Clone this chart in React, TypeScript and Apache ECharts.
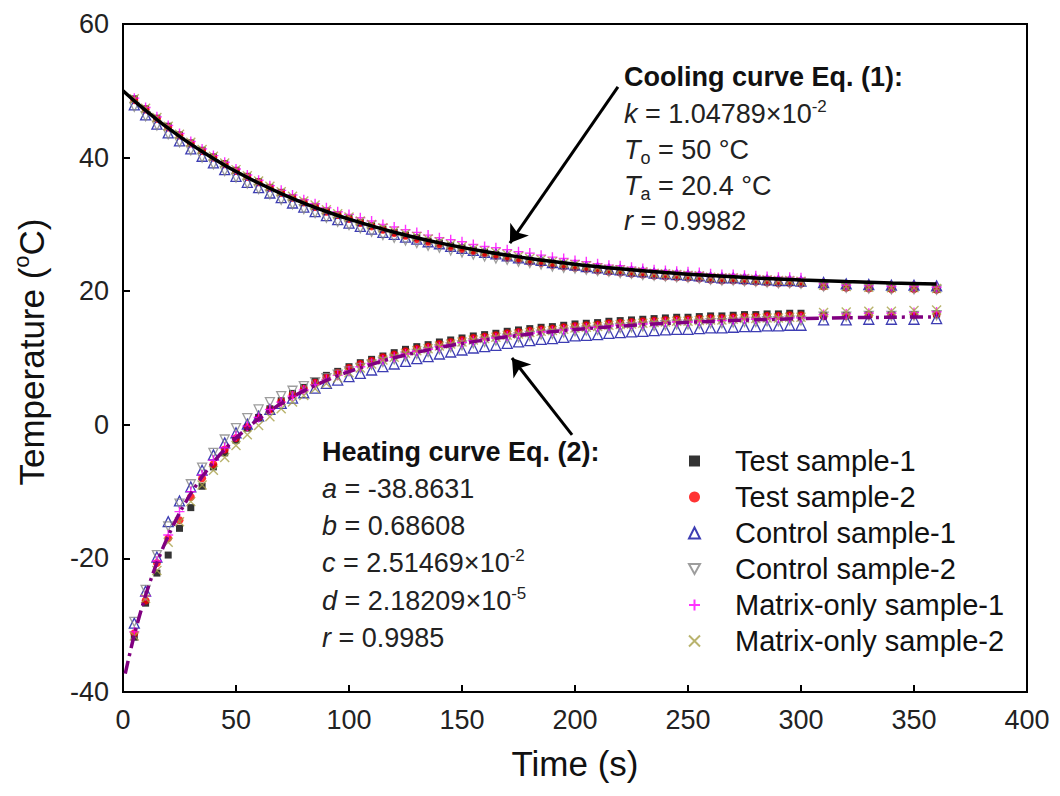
import React, { useEffect, useRef } from 'react';
import * as echarts from 'echarts';

const FONT = '"Liberation Sans", Arial, Helvetica, sans-serif';

// Sampling times (s)
const times = [
  5, 10, 15, 20, 25, 30, 35, 40, 45, 50,
  55, 60, 65, 70, 75, 80, 85, 90, 95, 100,
  105, 110, 115, 120, 125, 130, 135, 140, 145, 150,
  155, 160, 165, 170, 175, 180, 185, 190, 195, 200,
  205, 210, 215, 220, 225, 230, 235, 240, 245, 250,
  255, 260, 265, 270, 275, 280, 285, 290, 295, 300,
  310, 320, 330, 340, 350, 360,
];

// Cooling data (°C)
const test1Cool = [
  48.8, 47.3, 45.9, 44.7, 43.4, 42.2, 41.1, 40.1, 39.1, 38.1,
  37.2, 36.4, 35.5, 34.8, 34.0, 33.3, 32.7, 32.0, 31.4, 30.9,
  30.3, 29.8, 29.3, 28.8, 28.4, 28.0, 27.5, 27.2, 26.8, 26.5,
  26.1, 25.8, 25.5, 25.2, 24.9, 24.6, 24.4, 24.1, 23.9, 23.7,
  23.5, 23.3, 23.1, 23.0, 22.8, 22.7, 22.5, 22.4, 22.3, 22.2,
  22.1, 21.9, 21.8, 21.8, 21.7, 21.6, 21.5, 21.4, 21.4, 21.3,
  20.8, 20.6, 20.5, 20.4, 20.4, 20.3,
];
const test2Cool = [
  48.6, 47.2, 45.8, 44.5, 43.3, 42.1, 41.0, 40.0, 39.0, 38.0,
  37.1, 36.3, 35.5, 34.7, 34.0, 33.3, 32.6, 31.9, 31.4, 30.8,
  30.2, 29.7, 29.2, 28.7, 28.3, 27.8, 27.4, 27.0, 26.6, 26.3,
  26.0, 25.6, 25.3, 25.0, 24.7, 24.4, 24.2, 23.9, 23.7, 23.5,
  23.3, 23.1, 22.9, 22.8, 22.6, 22.5, 22.3, 22.2, 22.1, 22.0,
  21.9, 21.7, 21.6, 21.6, 21.5, 21.4, 21.3, 21.2, 21.2, 21.1,
  20.7, 20.5, 20.4, 20.3, 20.3, 20.2,
];
const control1Cool = [
  47.9, 46.4, 45.0, 43.7, 42.5, 41.3, 40.2, 39.2, 38.2, 37.2,
  36.3, 35.5, 34.7, 34.0, 33.2, 32.6, 31.9, 31.3, 30.7, 30.2,
  29.7, 29.3, 28.8, 28.5, 28.1, 27.8, 27.4, 27.1, 26.7, 26.4,
  26.1, 25.8, 25.6, 25.3, 25.0, 24.8, 24.6, 24.3, 24.1, 23.9,
  23.7, 23.5, 23.3, 23.2, 23.0, 22.9, 22.7, 22.6, 22.5, 22.4,
  22.3, 22.1, 22.0, 22.0, 21.9, 21.8, 21.7, 21.6, 21.6, 21.5,
  21.3, 21.1, 21.0, 20.9, 20.9, 20.8,
];
const control2Cool = [
  47.6, 46.2, 44.8, 43.5, 42.3, 41.1, 40.0, 39.0, 38.0, 37.0,
  36.1, 35.3, 34.5, 33.7, 33.0, 32.3, 31.7, 31.0, 30.4, 29.9,
  29.4, 28.9, 28.4, 28.0, 27.6, 27.2, 26.8, 26.5, 26.1, 25.8,
  25.5, 25.2, 24.9, 24.7, 24.4, 24.2, 24.0, 23.7, 23.5, 23.4,
  23.2, 23.0, 22.9, 22.7, 22.6, 22.4, 22.3, 22.2, 22.1, 22.0,
  21.9, 21.7, 21.6, 21.6, 21.5, 21.4, 21.3, 21.2, 21.2, 21.1,
  20.7, 20.5, 20.4, 20.3, 20.3, 20.2,
];
const matrix1Cool = [
  48.9, 47.5, 46.1, 44.8, 43.6, 42.4, 41.3, 40.3, 39.3, 38.3,
  37.4, 36.6, 35.8, 35.1, 34.4, 33.7, 33.1, 32.5, 31.9, 31.5,
  31.0, 30.5, 30.0, 29.6, 29.2, 28.8, 28.4, 28.0, 27.7, 27.4,
  27.0, 26.7, 26.5, 26.2, 25.9, 25.7, 25.4, 25.1, 24.9, 24.6,
  24.4, 24.1, 23.9, 23.8, 23.6, 23.4, 23.2, 23.1, 23.0, 22.9,
  22.8, 22.6, 22.5, 22.5, 22.4, 22.3, 22.2, 22.1, 22.1, 22.0,
  21.1, 20.9, 20.8, 20.7, 20.7, 20.6,
];
const matrix2Cool = [
  48.8, 47.4, 46.0, 44.7, 43.5, 42.3, 41.2, 40.2, 39.2, 38.2,
  37.3, 36.5, 35.7, 34.9, 34.2, 33.5, 32.9, 32.2, 31.6, 31.1,
  30.5, 30.0, 29.5, 29.0, 28.6, 28.2, 27.8, 27.4, 27.0, 26.7,
  26.3, 26.0, 25.8, 25.5, 25.2, 24.9, 24.7, 24.4, 24.2, 24.0,
  23.8, 23.5, 23.3, 23.2, 23.0, 22.9, 22.7, 22.6, 22.5, 22.4,
  22.3, 22.1, 22.0, 22.0, 21.9, 21.8, 21.7, 21.6, 21.6, 21.5,
  20.9, 20.7, 20.6, 20.5, 20.5, 20.4,
];

// Heating data (°C)
const test1Heat = [
  -31.8, -26.7, -22.2, -19.5, -15.5, -12.4, -9.2, -6.3, -4.2, -2.3,
  -0.5, 1.1, 2.4, 3.6, 4.7, 5.6, 6.5, 7.4, 8.0, 8.7,
  9.3, 9.8, 10.3, 10.8, 11.3, 11.7, 12.0, 12.4, 12.7, 13.0,
  13.3, 13.5, 13.7, 14.0, 14.2, 14.4, 14.6, 14.7, 14.9, 15.1,
  15.2, 15.3, 15.5, 15.6, 15.7, 15.8, 15.9, 16.0, 16.1, 16.1,
  16.2, 16.3, 16.3, 16.4, 16.5, 16.5, 16.6, 16.6, 16.7, 16.7,
  16.4, 16.4, 16.5, 16.5, 16.5, 16.6,
];
const test2Heat = [
  -31.2, -26.3, -20.7, -17.0, -14.3, -10.8, -8.0, -5.9, -3.7, -2.0,
  -0.3, 1.1, 2.3, 3.5, 4.5, 5.4, 6.3, 7.1, 7.8, 8.5,
  9.1, 9.6, 10.1, 10.5, 11.0, 11.4, 11.7, 12.1, 12.4, 12.7,
  13.0, 13.2, 13.4, 13.7, 13.9, 14.1, 14.3, 14.4, 14.6, 14.8,
  14.9, 15.0, 15.2, 15.3, 15.4, 15.5, 15.6, 15.7, 15.8, 15.8,
  15.9, 16.0, 16.0, 16.1, 16.2, 16.2, 16.3, 16.3, 16.4, 16.4,
  16.3, 16.3, 16.4, 16.4, 16.4, 16.5,
];
const control1Heat = [
  -29.7, -24.9, -19.8, -14.5, -11.4, -9.3, -6.8, -4.5, -2.7, -1.2,
  0.1, 1.3, 2.3, 3.2, 4.0, 4.8, 5.5, 6.2, 6.7, 7.2,
  7.7, 8.2, 8.7, 9.1, 9.5, 9.9, 10.2, 10.6, 10.9, 11.2,
  11.5, 11.7, 11.9, 12.2, 12.4, 12.6, 12.8, 12.9, 13.1, 13.3,
  13.4, 13.5, 13.7, 13.8, 13.9, 14.0, 14.1, 14.2, 14.3, 14.3,
  14.4, 14.5, 14.5, 14.6, 14.7, 14.7, 14.8, 14.8, 14.9, 14.9,
  15.7, 15.7, 15.8, 15.8, 15.8, 15.9,
];
const control2Heat = [
  -29.5, -24.7, -19.5, -15.2, -11.8, -8.9, -6.4, -4.2, -2.2, -0.5,
  1.0, 2.3, 3.4, 4.3, 5.1, 5.8, 6.4, 7.0, 7.5, 8.0,
  8.5, 9.0, 9.4, 9.8, 10.2, 10.6, 10.9, 11.3, 11.6, 11.9,
  12.2, 12.4, 12.6, 12.9, 13.1, 13.3, 13.5, 13.6, 13.8, 14.0,
  14.1, 14.2, 14.4, 14.5, 14.6, 14.7, 14.8, 14.9, 15.0, 15.0,
  15.1, 15.2, 15.2, 15.3, 15.4, 15.4, 15.5, 15.5, 15.6, 15.6,
  16.2, 16.2, 16.3, 16.3, 16.3, 16.4,
];
const matrix1Heat = [
  -31.0, -25.6, -20.4, -16.5, -13.0, -10.0, -7.5, -5.3, -3.4, -1.7,
  -0.2, 1.1, 2.3, 3.4, 4.3, 5.2, 6.0, 6.8, 7.4, 8.1,
  8.7, 9.2, 9.7, 10.1, 10.6, 11.0, 11.3, 11.7, 12.0, 12.3,
  12.6, 12.8, 13.0, 13.3, 13.5, 13.7, 13.9, 14.0, 14.2, 14.4,
  14.5, 14.6, 14.8, 14.9, 15.0, 15.1, 15.2, 15.3, 15.4, 15.4,
  15.5, 15.6, 15.6, 15.7, 15.8, 15.8, 15.9, 15.9, 16.0, 16.0,
  16.5, 16.6, 16.7, 16.7, 16.8, 16.9,
];
const matrix2Heat = [
  -31.6, -26.0, -21.8, -17.6, -14.5, -11.5, -9.0, -6.8, -4.9, -3.1,
  -1.5, -0.1, 1.2, 2.4, 3.4, 4.4, 5.4, 6.2, 7.0, 7.8,
  8.5, 9.1, 9.7, 10.1, 10.7, 11.1, 11.4, 11.8, 12.1, 12.4,
  12.7, 12.9, 13.1, 13.4, 13.6, 13.8, 14.0, 14.1, 14.3, 14.5,
  14.6, 14.7, 14.9, 15.0, 15.1, 15.2, 15.3, 15.4, 15.5, 15.5,
  15.6, 15.7, 15.7, 15.8, 15.9, 15.9, 16.0, 16.0, 16.1, 16.1,
  16.8, 16.9, 17.0, 17.0, 17.1, 17.2,
];

// Fitted curves
const coolFitTimes = [0, 5, 10, 15, 20, 25, 30, 35, 40, 45, 50, 60, 70, 80, 90, 100, 120, 140, 160, 180, 200, 220, 240, 260, 280, 300, 320, 340, 360];
const coolFit = [50.0, 48.49, 47.06, 45.7, 44.4, 43.18, 42.02, 40.91, 39.87, 38.87, 37.93, 36.19, 34.62, 33.2, 31.93, 30.78, 28.82, 27.23, 25.94, 24.89, 24.04, 23.35, 22.79, 22.34, 21.97, 21.68, 21.44, 21.24, 21.08];
const heatFitTimes = [1, 5, 10, 15, 20, 25, 30, 35, 40, 45, 50, 60, 70, 80, 90, 100, 120, 140, 160, 180, 200, 220, 240, 260, 280, 300, 320, 340, 360];
const heatFit = [-37.24, -31.46, -25.53, -20.67, -16.63, -13.22, -10.3, -7.79, -5.6, -3.67, -1.97, 0.89, 3.2, 5.08, 6.65, 7.97, 10.03, 11.56, 12.7, 13.58, 14.25, 14.77, 15.17, 15.48, 15.71, 15.89, 16.02, 16.1, 16.16];

const xTicks = { min: 0, max: 400, interval: 50 };
const yTicks = { min: -40, max: 60, interval: 20 };

const sampleNames = [
  'Test sample-1',
  'Test sample-2',
  'Control sample-1',
  'Control sample-2',
  'Matrix-only sample-1',
  'Matrix-only sample-2',
];

// Arrow annotations: [tail, head] in data coordinates
const coolArrow = [[219, 50.6], [171.2, 27.2]];
const heatArrow = [[198.7, -1.5], [172.1, 10.0]];

const coolText = [
  '{b|Cooling curve Eq. (1):}',
  '{i|k} = 1.04789×10{sup|-2}',
  '{i|T}{sub|o} = 50 °C',
  '{i|T}{sub|a} = 20.4 °C',
  '{i|r} = 0.9982',
];
const heatText = [
  '{b|Heating curve Eq. (2):}',
  '{i|a} = -38.8631',
  '{i|b} = 0.68608',
  '{i|c} = 2.51469×10{sup|-2}',
  '{i|d} = 2.18209×10{sup|-5}',
  '{i|r} = 0.9985',
];

function zip(xs: number[], ys: number[]) {
  const n = Math.min(xs.length, ys.length);
  const out: number[][] = [];
  for (let i = 0; i < n; i++) out.push([xs[i], ys[i]]);
  return out;
}

const clear = 'rgba(255,255,255,0)';
const samples = [
  { name: sampleNames[0], cool: test1Cool, heat: test1Heat, symbol: 'rect', size: 7, style: { color: '#000000' } },
  { name: sampleNames[1], cool: test2Cool, heat: test2Heat, symbol: 'circle', size: 8, style: { color: '#ff0000' } },
  { name: sampleNames[2], cool: control1Cool, heat: control1Heat, symbol: 'triangle', size: 10, style: { color: clear, borderColor: '#0c0ca0', borderWidth: 1.3 } },
  { name: sampleNames[3], cool: control2Cool, heat: control2Heat, symbol: 'path://M0,0L10,0L5,9Z', size: 9, style: { color: clear, borderColor: '#848484', borderWidth: 1.3 } },
  { name: sampleNames[4], cool: matrix1Cool, heat: matrix1Heat, symbol: 'path://M5,0L5,10M0,5L10,5', size: 10, style: { color: clear, borderColor: '#ff00ff', borderWidth: 1.4 } },
  { name: sampleNames[5], cool: matrix2Cool, heat: matrix2Heat, symbol: 'path://M0,0L10,10M10,0L0,10', size: 9, style: { color: clear, borderColor: '#a8a048', borderWidth: 1.4 } },
];

const TXT = 27;
const rich = {
  b: { fontFamily: FONT, fontSize: TXT, fontWeight: 'bold', fill: '#111', lineHeight: 33 },
  i: { fontFamily: FONT, fontSize: TXT, fontStyle: 'italic', fill: '#222', lineHeight: 33 },
  sup: { fontFamily: FONT, fontSize: 17, fill: '#222', verticalAlign: 'top', lineHeight: 18 },
  sub: { fontFamily: FONT, fontSize: 18, fill: '#222', verticalAlign: 'bottom', lineHeight: 18 },
};

function textLines(lines: string[], x: number, ys: number[]) {
  return lines.map((t, k) => ({
    type: 'text',
    x,
    y: ys[k],
    silent: true,
    style: {
      text: t,
      fontFamily: FONT,
      fontSize: TXT,
      fill: '#222',
      lineHeight: 33,
      align: 'left',
      verticalAlign: 'middle',
      rich,
    },
  }));
}

export default function App() {
  const ref = useRef<HTMLDivElement>(null);

  useEffect(() => {
    if (!ref.current) return;
    const chart = echarts.init(ref.current, null, { renderer: 'svg' });

    const axisCommon = {
      axisLine: { show: true, onZero: false, lineStyle: { color: '#000', width: 2 } },
      axisTick: { show: true, inside: true, length: 7, lineStyle: { color: '#000', width: 2 } },
      splitLine: { show: false },
      axisLabel: { fontFamily: FONT, fontSize: 27, color: '#222', margin: 14 },
    };

    const scatterSeries = samples.map((s) => ({
      type: 'scatter',
      name: s.name,
      symbol: s.symbol,
      symbolSize: s.size,
      itemStyle: s.style,
      data: zip(times, s.cool).concat(zip(times, s.heat)),
    }));

    const option: any = {
      animation: false,
      backgroundColor: '#ffffff',
      grid: {
        left: 123,
        top: 24,
        width: 904,
        height: 668,
        show: true,
        borderColor: '#000',
        borderWidth: 2,
        backgroundColor: 'transparent',
      },
      xAxis: {
        type: 'value',
        ...xTicks,
        ...axisCommon,
      },
      yAxis: {
        type: 'value',
        ...yTicks,
        ...axisCommon,
      },
      legend: {
        orient: 'vertical',
        left: 688,
        top: 446,
        padding: 0,
        itemWidth: 11,
        itemHeight: 11,
        itemGap: 6,
        data: sampleNames,
        textStyle: {
          fontFamily: FONT,
          fontSize: 29,
          color: '#111',
          lineHeight: 30,
          padding: [0, 0, 0, 30],
        },
      },
      series: [
        ...scatterSeries,
        {
          type: 'line',
          name: 'Cooling fit',
          data: zip(coolFitTimes, coolFit),
          smooth: 0.3,
          showSymbol: false,
          symbol: 'none',
          lineStyle: { color: '#000', width: 3.5 },
          itemStyle: { color: '#000' },
          z: 5,
          markLine: {
            silent: true,
            symbol: ['none', 'arrow'],
            symbolSize: 17,
            label: { show: false },
            lineStyle: { color: '#000', width: 3, type: 'solid' },
            itemStyle: { color: '#000' },
            data: [
              [{ coord: coolArrow[0] }, { coord: coolArrow[1] }],
              [{ coord: heatArrow[0] }, { coord: heatArrow[1] }],
            ],
          },
        },
        {
          type: 'line',
          name: 'Heating fit',
          data: zip(heatFitTimes, heatFit),
          smooth: 0.3,
          showSymbol: false,
          symbol: 'none',
          lineStyle: { color: '#800080', width: 3.5, type: [13, 5, 3, 5] },
          itemStyle: { color: '#800080' },
          z: 5,
        },
      ],
      graphic: [
        ...textLines(coolText, 624, [77, 114, 150, 186, 221]),
        ...textLines(heatText, 322, [452, 489, 526, 563, 601, 638]),
        {
          type: 'text',
          x: 575,
          y: 763,
          silent: true,
          style: {
            text: 'Time (s)',
            fontFamily: FONT,
            fontSize: 35,
            fill: '#111',
            align: 'center',
            verticalAlign: 'middle',
          },
        },
        {
          type: 'text',
          x: 31,
          y: 352,
          rotation: Math.PI / 2,
          silent: true,
          style: {
            text: 'Temperature ({sup|o}C)',
            fontFamily: FONT,
            fontSize: 35,
            fill: '#111',
            lineHeight: 42,
            align: 'center',
            verticalAlign: 'middle',
            rich: {
              sup: { fontFamily: FONT, fontSize: 22, fill: '#111', verticalAlign: 'top', lineHeight: 24 },
            },
          },
        },
      ],
    };

    chart.setOption(option);
    return () => chart.dispose();
  }, []);

  return (
    <div
      ref={ref}
      style={{ position: 'absolute', left: 0, top: 0, width: 1060, height: 796, background: '#fff' }}
    />
  );
}
